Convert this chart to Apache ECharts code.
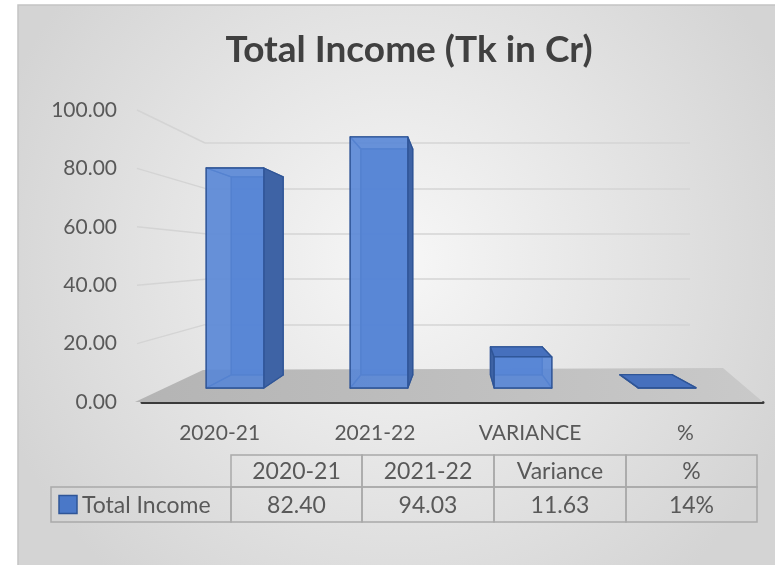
<!DOCTYPE html>
<html>
<head>
<meta charset="utf-8">
<script src="https://cdn.jsdelivr.net/npm/echarts@6/dist/echarts.min.js"></script>
<style>
  html, body { margin: 0; padding: 0; background: #fff; }
  #main { width: 775px; height: 565px; }
</style>
</head>
<body>
<div id="main"></div>
<script>
// data
var categories = ['2020-21', '2021-22', 'VARIANCE', '%'];
var tableHeads = ['2020-21', '2021-22', 'Variance', '%'];
var incomeValues = [82.40, 94.03, 11.63, 0.14];
var yTicks = [0, 20, 40, 60, 80, 100];
var seriesName = 'Total Income';

var FONT = 'Lato, "Open Sans", sans-serif';
var TEXT = '#595959';

// the three planes of the fake 3d box: front (labels), bars, back wall
var front = { left: 142, right: 12, top: 110, bottom: 163 };
var wall = { left: 205, right: 85, top: 143, bottom: 195 };
var bars = { left: 163, right: 36, top: 121, bottom: 177 };

// data table layout
var tableCols = [231, 362, 494, 626, 757];
var tableRows = [455, 487, 522];
var labelLeft = 51;

function cellText(i) {
  var v = incomeValues[i];
  if (categories[i] === '%') return Math.round(v * 100) + '%';
  return v.toFixed(2);
}

function renderBox(params, api) {
  var i = api.value(0);
  var top = api.coord([i, api.value(1)]);
  var base = api.coord([i, 0]);
  var half = api.size([1, 0])[0] * 0.2;
  var cs = params.coordSys;
  var vx = cs.x + cs.width * 0.51;
  var vy = cs.y + cs.height * 0.51;
  var k = 0.9;
  var back = function (p) { return [vx + k * (p[0] - vx), vy + k * (p[1] - vy)]; };
  var fTL = [top[0] - half, top[1]], fTR = [top[0] + half, top[1]];
  var fBR = [top[0] + half, base[1]], fBL = [top[0] - half, base[1]];
  var bTL = back(fTL), bTR = back(fTR), bBR = back(fBR), bBL = back(fBL);
  var edge = '#2f5597';
  function face(pts, fill, stroke) {
    return {
      type: 'polygon',
      shape: { points: pts },
      style: { fill: fill, stroke: stroke || edge, lineWidth: 1.3, lineJoin: 'round' }
    };
  }
  var faces = {
    left: [bTL, fTL, fBL, bBL],
    right: [fTR, bTR, bBR, fBR],
    top: [fTL, fTR, bTR, bTL],
    bottom: [fBL, fBR, bBR, bBL]
  };
  var visible = {
    left: fTL[0] > vx,
    right: fTR[0] < vx,
    top: top[1] > vy,
    bottom: base[1] < vy
  };
  var kids = [face([bTL, bTR, bBR, bBL], 'rgba(84,128,208,0.9)')];
  ['left', 'right', 'top', 'bottom'].forEach(function (s) {
    if (!visible[s]) kids.push(face(faces[s], 'none', 'rgba(47,85,151,0.8)'));
  });
  if (visible.left) kids.push(face(faces.left, '#3e63a5'));
  if (visible.right) kids.push(face(faces.right, '#3e63a5'));
  if (visible.top) kids.push(face(faces.top, '#4670bd'));
  kids.push(face([fTL, fTR, fBR, fBL], 'rgba(88,134,214,0.9)'));
  return { type: 'group', children: kids };
}

var chart = echarts.init(document.getElementById('main'));

var option = {
  animation: false,
  title: {
    text: 'Total Income (Tk in Cr)',
    left: 404,
    top: 27,
    textAlign: 'center',
    textStyle: { fontFamily: FONT, fontWeight: 'bold', fontSize: 37, color: '#404040' }
  },
  grid: [
    front,
    wall,
    bars
  ],
  xAxis: [
    {
      gridIndex: 0,
      type: 'category',
      data: categories,
      axisLine: { lineStyle: { color: '#3a3a3a', width: 3 } },
      axisTick: { show: false },
      axisLabel: { margin: 21, fontFamily: FONT, fontSize: 21, color: TEXT }
    },
    { gridIndex: 1, type: 'category', data: categories, show: false },
    { gridIndex: 2, type: 'category', data: categories, show: false }
  ],
  yAxis: [
    {
      gridIndex: 0,
      type: 'value',
      min: 0, max: 100, interval: 20,
      axisLine: { show: false },
      axisTick: { show: false },
      splitLine: { show: false },
      axisLabel: {
        margin: 25, fontFamily: FONT, fontSize: 21, color: TEXT,
        formatter: function (v) { return v.toFixed(2); }
      }
    },
    {
      gridIndex: 1,
      type: 'value',
      min: 0, max: 100, interval: 20,
      axisLine: { show: false },
      axisTick: { show: false },
      axisLabel: { show: false },
      splitLine: { lineStyle: { color: '#d4d4d4', width: 1.5 } }
    },
    { gridIndex: 2, type: 'value', min: 0, max: 100, show: false }
  ],
  series: [
    {
      name: seriesName,
      type: 'custom',
      xAxisIndex: 2,
      yAxisIndex: 2,
      z: 5,
      renderItem: renderBox,
      encode: { x: 0, y: 1 },
      data: incomeValues.map(function (v, i) { return [i, v]; })
    }
  ]
};

chart.setOption(option);

// background, floor, wall connectors and the data table
var g = [];
g.push({
  type: 'rect', z: -10, silent: true,
  shape: { x: 18, y: 5, width: 760, height: 565 },
  style: {
    fill: new echarts.graphic.RadialGradient(0.5, 0.45, 0.75, [
      { offset: 0, color: '#f7f7f7' },
      { offset: 1, color: '#d4d4d4' }
    ]),
    stroke: '#c4c4c4', lineWidth: 1.5
  }
});

var frontBase = chart.convertToPixel({ xAxisIndex: 0, yAxisIndex: 0 }, [0, 0]);
var wallBase = chart.convertToPixel({ xAxisIndex: 1, yAxisIndex: 1 }, [0, 0]);
var wallRight = 775 - wall.right + 33;
var frontLeft = front.left - 7;
var frontRight = 775 - front.right;

g.push({
  type: 'polygon', z: 1, silent: true,
  shape: { points: [[wall.left - 2, wallBase[1]], [wallRight, wallBase[1] - 2], [frontRight, frontBase[1]], [frontLeft, frontBase[1]]] },
  style: {
    fill: new echarts.graphic.LinearGradient(0, 0, 1, 0, [
      { offset: 0, color: '#b4b4b4' },
      { offset: 1, color: '#c9c9c9' }
    ])
  }
});

yTicks.forEach(function (v) {
  if (v === 0) return;
  var fy = chart.convertToPixel({ yAxisIndex: 0 }, v);
  var wy = chart.convertToPixel({ yAxisIndex: 1 }, v);
  g.push({
    type: 'line', z: 1, silent: true,
    shape: { x1: frontLeft + 2, y1: fy, x2: wall.left, y2: wy },
    style: { stroke: '#d4d4d4', lineWidth: 1.5 }
  });
});

var tableStroke = { fill: 'none', stroke: '#a9a9a9', lineWidth: 1.5 };
for (var c = 0; c < tableHeads.length; c++) {
  var x0 = tableCols[c], w = tableCols[c + 1] - tableCols[c];
  for (var r = 0; r < 2; r++) {
    g.push({
      type: 'rect', z: 1, silent: true,
      shape: { x: x0, y: tableRows[r], width: w, height: tableRows[r + 1] - tableRows[r] },
      style: tableStroke
    });
    g.push({
      type: 'text', z: 2, silent: true,
      x: x0 + w / 2, y: (tableRows[r] + tableRows[r + 1]) / 2 + 1,
      style: {
        text: r === 0 ? tableHeads[c] : cellText(c),
        fontFamily: FONT, fontSize: 23, fill: TEXT,
        align: 'center', verticalAlign: 'middle'
      }
    });
  }
}
g.push({
  type: 'rect', z: 1, silent: true,
  shape: { x: labelLeft, y: tableRows[1], width: tableCols[0] - labelLeft, height: tableRows[2] - tableRows[1] },
  style: tableStroke
});
var rowMid = (tableRows[1] + tableRows[2]) / 2;
g.push({
  type: 'rect', z: 2, silent: true,
  shape: { x: labelLeft + 8, y: rowMid - 9, width: 18, height: 18 },
  style: { fill: '#4a78c8', stroke: '#2f5597', lineWidth: 1.5 }
});
g.push({
  type: 'text', z: 2, silent: true,
  x: labelLeft + 31, y: rowMid + 1,
  style: { text: seriesName, fontFamily: FONT, fontSize: 23, fill: TEXT, align: 'left', verticalAlign: 'middle' }
});

chart.setOption({ graphic: { elements: g } });
</script>
</body>
</html>
